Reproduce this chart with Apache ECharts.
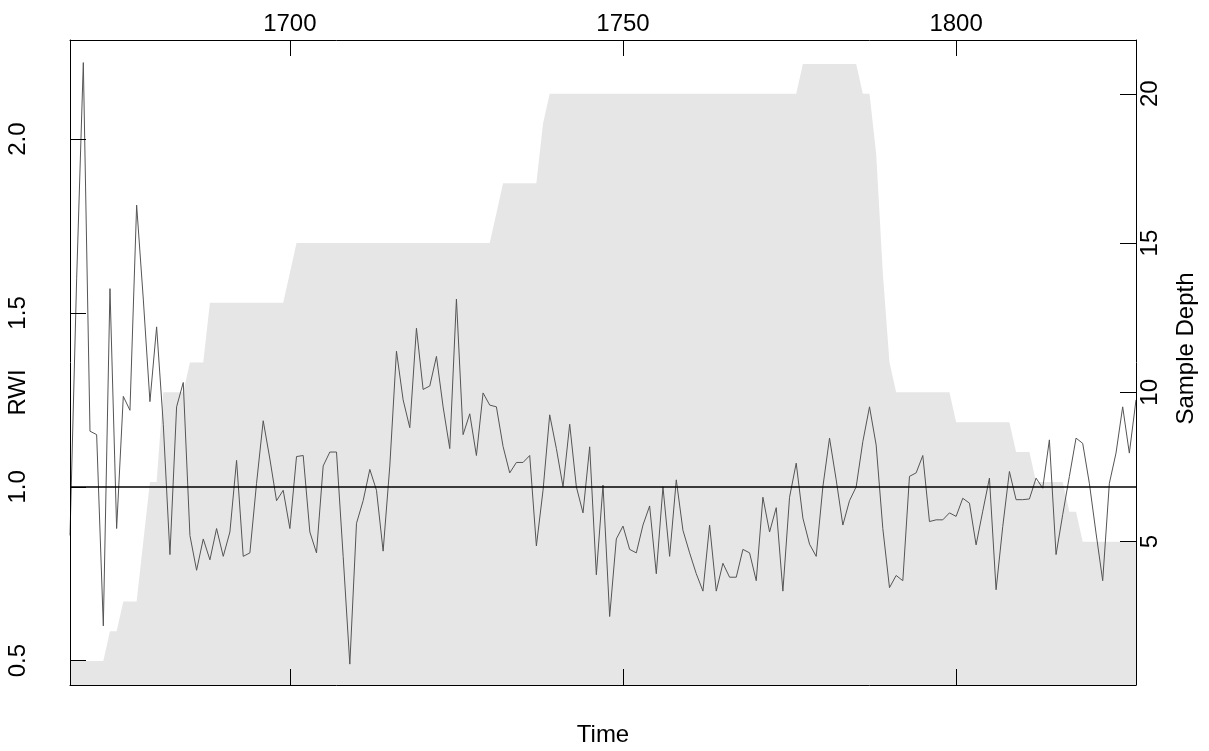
<!DOCTYPE html>
<html>
<head>
<meta charset="utf-8">
<script src="https://cdn.jsdelivr.net/npm/echarts@6/dist/echarts.min.js"></script>
<style>
  html, body { margin: 0; padding: 0; background: #fff; }
  #chart { width: 1209px; height: 751px; }
</style>
</head>
<body>
<div id="chart"></div>
<script>
// chronology 1667-1827, one value per year
const firstYear = 1667;
const lastYear = 1827;

// ring width index
const rwi = [
  0.86, 1.60, 2.22, 1.16, 1.15, 0.60, 1.57, 0.88, 1.26, 1.22,
  1.81, 1.54, 1.245, 1.46, 1.18, 0.805, 1.23, 1.30, 0.86, 0.76,
  0.85, 0.79, 0.88, 0.80, 0.87, 1.076, 0.80, 0.81, 1.01, 1.19,
  1.08, 0.96, 0.99, 0.88, 1.087, 1.09, 0.87, 0.81, 1.06, 1.10,
  1.10, 0.80, 0.49, 0.895, 0.96, 1.05, 0.99, 0.815, 1.06, 1.39,
  1.25, 1.17, 1.456, 1.28, 1.29, 1.375, 1.23, 1.11, 1.54, 1.15,
  1.21, 1.09, 1.27, 1.235, 1.23, 1.116, 1.04, 1.07, 1.07, 1.09,
  0.83, 0.99, 1.207, 1.11, 1.00, 1.18, 1.00, 0.925, 1.115, 0.747,
  1.005, 0.627, 0.85, 0.887, 0.82, 0.81, 0.89, 0.945, 0.75, 1.00,
  0.80, 1.02, 0.875, 0.81, 0.75, 0.70, 0.89, 0.70, 0.78, 0.74,
  0.74, 0.82, 0.81, 0.73, 0.97, 0.87, 0.94, 0.70, 0.97, 1.068,
  0.91, 0.835, 0.80, 1.00, 1.14, 1.02, 0.89, 0.96, 1.00, 1.13,
  1.23, 1.12, 0.88, 0.71, 0.745, 0.73, 1.03, 1.04, 1.09, 0.90,
  0.905, 0.905, 0.925, 0.915, 0.967, 0.953, 0.833, 0.93, 1.025, 0.704,
  0.886, 1.044, 0.963, 0.963, 0.965, 1.025, 0.996, 1.135, 0.805, 0.92,
  1.03, 1.14, 1.125, 1.01, 0.867, 0.73, 1.01, 1.097, 1.23, 1.097,
  1.25
];

// number of series per year
const depth = [
  1, 1, 1, 1, 1, 1, 2, 2, 3, 3,
  3, 5, 7, 7, 10, 10, 10, 10, 11, 11,
  11, 13, 13, 13, 13, 13, 13, 13, 13, 13,
  13, 13, 13, 14, 15, 15, 15, 15, 15, 15,
  15, 15, 15, 15, 15, 15, 15, 15, 15, 15,
  15, 15, 15, 15, 15, 15, 15, 15, 15, 15,
  15, 15, 15, 15, 16, 17, 17, 17, 17, 17,
  17, 19, 20, 20, 20, 20, 20, 20, 20, 20,
  20, 20, 20, 20, 20, 20, 20, 20, 20, 20,
  20, 20, 20, 20, 20, 20, 20, 20, 20, 20,
  20, 20, 20, 20, 20, 20, 20, 20, 20, 20,
  21, 21, 21, 21, 21, 21, 21, 21, 21, 20,
  20, 18, 14, 11, 10, 10, 10, 10, 10, 10,
  10, 10, 10, 9, 9, 9, 9, 9, 9, 9,
  9, 9, 8, 8, 8, 7, 7, 7, 7, 7,
  6, 6, 5, 5, 5, 5, 5, 5, 5, 5,
  5
];

const timeTicks = [1700, 1750, 1800];
const rwiTicks = [0.5, 1.0, 1.5, 2.0];
const depthTicks = [5, 10, 15, 20];

const years = [];
for (let y = firstYear; y <= lastYear; y++) years.push(y);

const font = '"Liberation Sans", Arial, sans-serif';
const textStyle = { color: '#000', fontSize: 24, fontFamily: font };

var chartDom = document.getElementById('chart');
var myChart = echarts.init(chartDom);

var option = {
  animation: false,
  backgroundColor: '#fff',
  grid: { left: 70, right: 73, top: 40, bottom: 66, containLabel: false, outerBoundsMode: 'none' },
  xAxis: [{
    type: 'value',
    position: 'top',
    min: firstYear,
    max: lastYear,
    z: 5,
    axisLine: { show: true, lineStyle: { color: '#000', width: 1 } },
    axisTick: { show: true, inside: true, length: 16, customValues: timeTicks, lineStyle: { color: '#000' } },
    axisLabel: Object.assign({ customValues: timeTicks, margin: 4, formatter: v => String(v) }, textStyle),
    splitLine: { show: false }
  }, {
    type: 'value',
    position: 'bottom',
    min: firstYear,
    max: lastYear,
    z: 5,
    name: 'Time',
    nameLocation: 'middle',
    nameGap: 38,
    nameTextStyle: textStyle,
    axisLine: { show: true, lineStyle: { color: '#000', width: 1 } },
    axisTick: { show: true, inside: true, length: 16, customValues: timeTicks, lineStyle: { color: '#000' } },
    axisLabel: { show: false },
    splitLine: { show: false }
  }],
  yAxis: [{
    type: 'value',
    position: 'left',
    min: 0.43,
    max: 2.285,
    z: 5,
    name: 'RWI',
    nameLocation: 'middle',
    nameRotate: 90,
    nameGap: 40,
    nameMoveOverlap: false,
    nameTextStyle: Object.assign({ padding: [0, 60, 0, 0] }, textStyle),
    axisLine: { show: true, lineStyle: { color: '#000', width: 1 } },
    axisTick: { show: true, inside: true, length: 16, customValues: rwiTicks, lineStyle: { color: '#000' } },
    axisLabel: Object.assign({ customValues: rwiTicks, rotate: 90, margin: 40, formatter: v => v.toFixed(1) }, textStyle),
    splitLine: { show: false }
  }, {
    type: 'value',
    position: 'right',
    min: 0.2,
    max: 21.8,
    z: 5,
    name: 'Sample Depth',
    nameLocation: 'middle',
    nameRotate: 90,
    nameGap: 38,
    nameMoveOverlap: false,
    nameTextStyle: Object.assign({ padding: [0, 0, 0, 28] }, textStyle),
    axisLine: { show: true, lineStyle: { color: '#000', width: 1 } },
    axisTick: { show: true, inside: true, length: 16, customValues: depthTicks, lineStyle: { color: '#000' } },
    axisLabel: Object.assign({ customValues: depthTicks, rotate: 90, margin: 2, formatter: v => String(v) }, textStyle),
    splitLine: { show: false }
  }],
  series: [{
    name: 'Sample Depth',
    type: 'line',
    xAxisIndex: 0,
    yAxisIndex: 1,
    data: years.map((y, i) => [y, depth[i]]),
    showSymbol: false,
    silent: true,
    lineStyle: { width: 0 },
    areaStyle: { color: '#e6e6e6', opacity: 1 },
    z: 1
  }, {
    name: 'RWI',
    type: 'line',
    xAxisIndex: 0,
    yAxisIndex: 0,
    data: years.map((y, i) => [y, rwi[i]]),
    showSymbol: false,
    silent: true,
    lineStyle: { color: '#555', width: 1 },
    z: 2,
    markLine: {
      silent: true,
      symbol: 'none',
      label: { show: false },
      lineStyle: { color: '#000', width: 1.5, type: 'solid' },
      data: [{ yAxis: 1 }]
    }
  }]
};

option && myChart.setOption(option);
</script>
</body>
</html>
